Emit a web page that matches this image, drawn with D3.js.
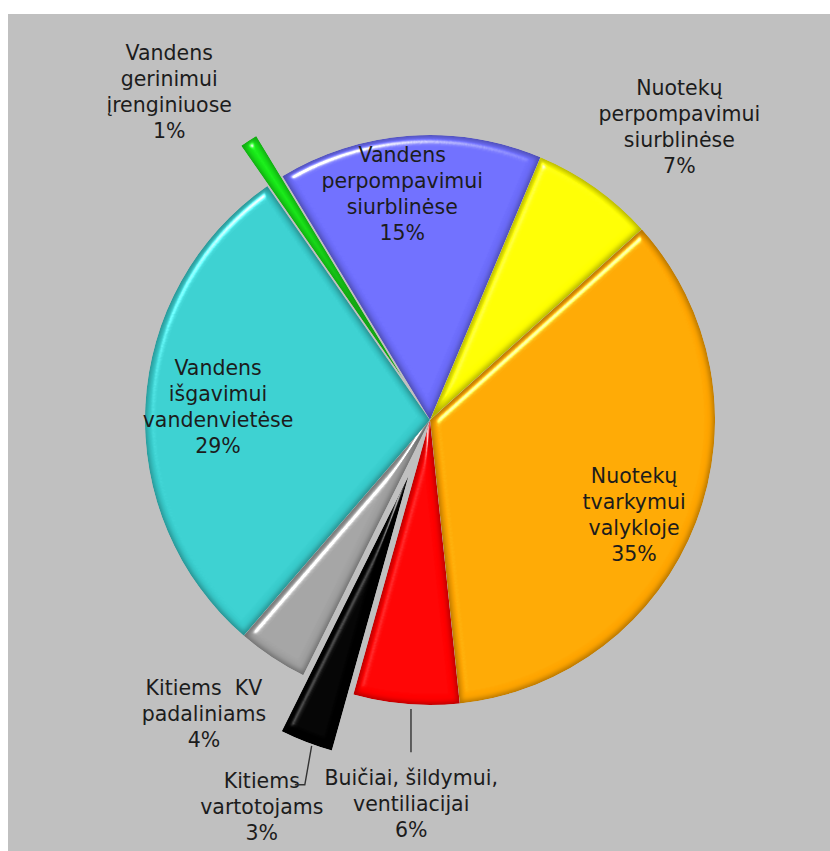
<!DOCTYPE html>
<html>
<head>
<meta charset="utf-8">
<script src="https://cdn.jsdelivr.net/npm/d3@7/dist/d3.min.js"></script>
<style>
  html, body { margin: 0; padding: 0; background: #ffffff; }
  svg { display: block; }
  text { white-space: pre; }
</style>
</head>
<body>
<svg id="chart" width="830" height="851"></svg>
<script>
// ---- data (clockwise order) ----
const categories = [
  "Nuotekų tvarkymui valykloje",
  "Buičiai, šildymui, ventiliacijai",
  "Kitiems vartotojams",
  "Kitiems KV padaliniams",
  "Vandens išgavimui vandenvietėse",
  "Vandens gerinimui įrenginiuose",
  "Vandens perpompavimui siurblinėse",
  "Nuotekų perpompavimui siurblinėse"
];
const values = [35, 6, 3, 4, 29, 1, 15, 7];
const labelLines = [
  ["Nuotekų", "tvarkymui", "valykloje"],
  ["Buičiai, šildymui,", "ventiliacijai"],
  ["Kitiems", "vartotojams"],
  ["Kitiems  KV", "padaliniams"],
  ["Vandens", "išgavimui", "vandenvietėse"],
  ["Vandens", "gerinimui", "įrenginiuose"],
  ["Vandens", "perpompavimui", "siurblinėse"],
  ["Nuotekų", "perpompavimui", "siurblinėse"]
];

// ---- styles / layout ----
const colors = ["#ffa500", "#ff0000", "#000000", "#a0a0a0", "#38cccc", "#18ec18", "#6c6cfa", "#ffff00"];
const explode = [0, 0, 60, 0, 0, 48, 0, 0];
// label placement: radius factor (of R) and angle nudge (deg)
const labelRadius = [0.79, 1.35, 1.48, 1.30, 0.745, 1.47, 0.80, 1.35];
const labelNudge  = [4, -2, 2.5, 4, 0.5, -5.5, -2.8, 5];
const leader = [null, "vertical", "bent", null, null, null, null, null];

const W = 830, H = 851;
const cx = 430, cy = 420, R = 285;
const fontSize = 20.5, lineH = 26;

const svg = d3.select("#chart");
const defs = svg.append("defs");

const f = defs.append("filter").attr("id", "bevel")
  .attr("color-interpolation-filters", "sRGB")
  .attr("x", "-10%").attr("y", "-10%").attr("width", "120%").attr("height", "120%");
f.append("feGaussianBlur").attr("in", "SourceAlpha").attr("stdDeviation", 4).attr("result", "blur");
const spec = f.append("feSpecularLighting").attr("in", "blur").attr("surfaceScale", 6)
  .attr("specularConstant", 1.0).attr("specularExponent", 45)
  .attr("lighting-color", "#ffffff").attr("result", "spec");
spec.append("feDistantLight").attr("azimuth", 240).attr("elevation", 45);
f.append("feComposite").attr("in", "spec").attr("in2", "SourceAlpha").attr("operator", "in").attr("result", "specIn");
// darker rim
f.append("feMorphology").attr("in", "SourceAlpha").attr("operator", "erode").attr("radius", 1.5).attr("result", "er");
f.append("feGaussianBlur").attr("in", "er").attr("stdDeviation", 2.5).attr("result", "erb");
f.append("feComposite").attr("in", "SourceAlpha").attr("in2", "erb").attr("operator", "out").attr("result", "rim");
f.append("feColorMatrix").attr("in", "rim").attr("type", "matrix")
  .attr("values", "0 0 0 0 0  0 0 0 0 0  0 0 0 0 0  0 0 0 0.3 0").attr("result", "rimDark");
f.append("feMerge").call(m => {
  m.append("feMergeNode").attr("in", "SourceGraphic");
  m.append("feMergeNode").attr("in", "rimDark");
}).attr("result", "base");
f.append("feComposite").attr("in", "base").attr("in2", "specIn").attr("operator", "arithmetic")
  .attr("k1", 0).attr("k2", 1).attr("k3", 0.8).attr("k4", 0).attr("result", "lit");
f.append("feComposite").attr("in", "lit").attr("in2", "SourceAlpha").attr("operator", "in");

// background panel
svg.append("rect").attr("x", 8).attr("y", 14).attr("width", W - 8).attr("height", H - 14).attr("fill", "#c0c0c0");

const toRad = d => d * Math.PI / 180;
const pie = d3.pie().sort(null).value(d => d).startAngle(toRad(48)).endAngle(toRad(48 + 360));
const arcs = pie(values);
const arcGen = d3.arc().innerRadius(0).outerRadius(R);

const polar = (angRad, r) => [cx + r * Math.sin(angRad), cy - r * Math.cos(angRad)];

// draw non-exploded first, exploded on top
const order = arcs.map((d, i) => i).sort((a, b) => (explode[a] > 0) - (explode[b] > 0));
const g = svg.append("g");
g.selectAll("path.slice").data(order.map(i => ({ a: arcs[i], i }))).join("path")
  .attr("class", "slice")
  .attr("d", d => arcGen(d.a))
  .attr("fill", d => colors[d.i])
  .attr("filter", "url(#bevel)")
  .attr("transform", d => {
    const m = (d.a.startAngle + d.a.endAngle) / 2;
    const [x, y] = polar(m, explode[d.i]);
    return `translate(${x},${y})`;
  });

// labels
const lab = svg.append("g")
  .attr("font-family", "'DejaVu Sans', Verdana, sans-serif")
  .attr("font-size", fontSize)
  .attr("fill", "#1c1c1c")
  .attr("text-anchor", "middle");

arcs.forEach((d, i) => {
  const m = (d.startAngle + d.endAngle) / 2;
  const [lx, ly] = polar(m + toRad(labelNudge[i]), R * labelRadius[i]);
  const lines = labelLines[i].concat([d3.format(".0%")(values[i] / d3.sum(values))]);
  const n = lines.length;
  const top = ly - (n - 1) * lineH / 2;
  const t = lab.append("text").attr("x", lx).attr("y", top);
  lines.forEach((s, k) => {
    t.append("tspan").attr("x", lx).attr("y", top + k * lineH).attr("dy", "0.35em").text(s);
  });

  if (leader[i] === "vertical") {
    const [sx, sy] = polar(m, R + explode[i] + 2);
    svg.append("line").attr("x1", sx + 5).attr("y1", sy + 3).attr("x2", sx + 5).attr("y2", top - 26)
      .attr("stroke", "#333").attr("stroke-width", 1.4);
  } else if (leader[i] === "bent") {
    const [sx, sy] = polar(m, R + explode[i] + 2);
    const ex = lx + 43, ey = top + 4;
    svg.append("path")
      .attr("d", `M${sx + 6},${sy + 2} L${ex},${ey} L${ex - 10},${ey}`)
      .attr("fill", "none").attr("stroke", "#333").attr("stroke-width", 1.4);
  }
});
</script>
</body>
</html>
